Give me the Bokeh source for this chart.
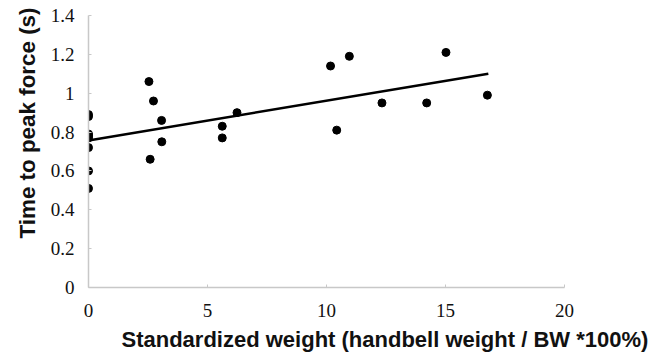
from bokeh.plotting import figure
from bokeh.models import Title, Range1d, FixedTicker
from bokeh.embed import file_html
from bokeh.resources import INLINE

# data
weight = [0, 0, 0, 0, 0, 0, 0, 0,
          2.54, 2.73, 3.07, 3.08, 2.59,
          5.62, 5.62, 6.24,
          10.17, 10.96, 10.43, 12.33, 14.21, 15.02, 16.76]
peak_time = [0.89, 0.88, 0.79, 0.78, 0.77, 0.72, 0.60, 0.51,
             1.06, 0.96, 0.86, 0.75, 0.66,
             0.83, 0.77, 0.90,
             1.14, 1.19, 0.81, 0.95, 0.95, 1.21, 0.99]
fit_x = [0, 16.8]
fit_y = [0.757, 1.10]

xticks = [0, 5, 10, 15, 20]
yticks = [0, 0.2, 0.4, 0.6, 0.8, 1.0, 1.2, 1.4]
ytick_labels = ["0", "0.2", "0.4", "0.6", "0.8", "1", "1.2", "1.4"]
xlabel = "Standardized weight (handbell weight / BW *100%)"
ylabel = "Time to peak force (s)"

p = figure(width=657, height=361, output_backend="svg", toolbar_location=None,
           x_range=Range1d(0, 20), y_range=Range1d(0, 1.4),
           min_border_left=88, min_border_right=93, min_border_top=15, min_border_bottom=74)
p.outline_line_color = None
p.grid.visible = False
p.background_fill_color = "white"
p.border_fill_color = "white"

p.axis.axis_line_color = "#c8c8c8"
p.axis.axis_line_width = 1.5
p.axis.major_tick_line_color = "#c8c8c8"
p.axis.major_tick_in = 3
p.axis.major_tick_out = 0
p.axis.minor_tick_line_color = None
p.axis.major_label_text_font = "Liberation Serif"
p.axis.major_label_text_font_size = "19px"
p.axis.major_label_text_color = "#111111"

p.xaxis.ticker = FixedTicker(ticks=xticks)
p.yaxis.ticker = FixedTicker(ticks=yticks)
p.yaxis.major_label_overrides = {v: s for v, s in zip(yticks, ytick_labels)}
p.xaxis.major_label_standoff = 16
p.yaxis.major_label_standoff = 14

p.line(fit_x, fit_y, line_color="black", line_width=2.5)
p.scatter(weight, peak_time, size=8, color="black")

xt = Title(text=xlabel, align="left", offset=33, standoff=10,
           text_font="Liberation Sans", text_font_style="bold",
           text_font_size="22px", text_color="#111111")
p.add_layout(xt, "below")
yt = Title(text=ylabel, align="left", offset=49, standoff=16,
           text_font="Liberation Sans", text_font_style="bold",
           text_font_size="22.4px", text_color="#111111")
p.add_layout(yt, "left")

open("out.html", "w").write(file_html(p, INLINE))
